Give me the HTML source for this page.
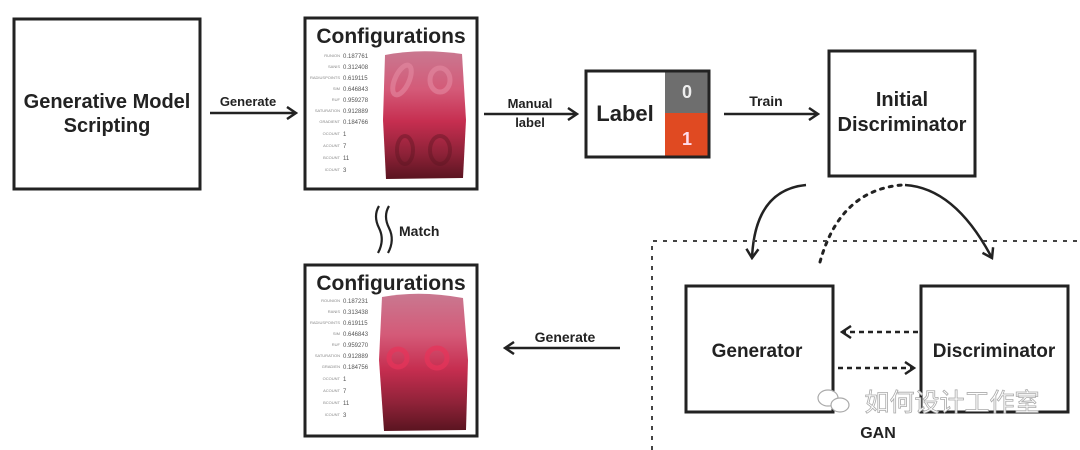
<!DOCTYPE html>
<html><head><meta charset="utf-8"><style>
html,body{margin:0;padding:0;background:#fff;}
svg{display:block;}
text{font-family:"Liberation Sans",Arial,sans-serif;font-weight:bold;fill:#222;}
</style></head><body>
<svg width="1080" height="450" viewBox="0 0 1080 450" xmlns="http://www.w3.org/2000/svg">
<defs>
<linearGradient id="rg" x1="0" y1="0" x2="0" y2="1">
<stop offset="0" stop-color="#c97890"/>
<stop offset="0.3" stop-color="#d45a78"/>
<stop offset="0.55" stop-color="#c62e50"/>
<stop offset="0.8" stop-color="#8e2238"/>
<stop offset="1" stop-color="#5a1420"/>
</linearGradient>
<marker id="ah" markerWidth="12" markerHeight="14" refX="10" refY="7" orient="auto" markerUnits="userSpaceOnUse">
<path d="M1,1 L10,7 L1,13" fill="none" stroke="#222" stroke-width="2.5"/>
</marker>
</defs>

<rect x="14" y="19" width="186" height="170" fill="none" stroke="#222" stroke-width="3"/>
<text x="107" y="108" font-size="20" text-anchor="middle">Generative Model</text>
<text x="107" y="132" font-size="20" text-anchor="middle">Scripting</text>

<line x1="210" y1="113" x2="296" y2="113" stroke="#222" stroke-width="2.5" marker-end="url(#ah)"/>
<text x="248" y="106" font-size="13" text-anchor="middle">Generate</text>

<rect x="305" y="18" width="172" height="171" fill="#fff" stroke="#222" stroke-width="3"/>
<text x="391" y="43" font-size="21" text-anchor="middle">Configurations</text>
<g>
<text x="340" y="57" font-size="4" text-anchor="end" style="font-weight:normal;fill:#888">RUNION</text><text x="343" y="58" font-size="6" style="font-weight:normal;fill:#555">0.187761</text>
<text x="340" y="68" font-size="4" text-anchor="end" style="font-weight:normal;fill:#888">SANIS</text><text x="343" y="69" font-size="6" style="font-weight:normal;fill:#555">0.312408</text>
<text x="340" y="79" font-size="4" text-anchor="end" style="font-weight:normal;fill:#888">RADIUSPOINTS</text><text x="343" y="80" font-size="6" style="font-weight:normal;fill:#555">0.619115</text>
<text x="340" y="90" font-size="4" text-anchor="end" style="font-weight:normal;fill:#888">SIM</text><text x="343" y="91" font-size="6" style="font-weight:normal;fill:#555">0.646843</text>
<text x="340" y="101" font-size="4" text-anchor="end" style="font-weight:normal;fill:#888">RUF</text><text x="343" y="102" font-size="6" style="font-weight:normal;fill:#555">0.959278</text>
<text x="340" y="112" font-size="4" text-anchor="end" style="font-weight:normal;fill:#888">SATURATION</text><text x="343" y="113" font-size="6" style="font-weight:normal;fill:#555">0.912889</text>
<text x="340" y="123" font-size="4" text-anchor="end" style="font-weight:normal;fill:#888">GRADIENT</text><text x="343" y="124" font-size="6" style="font-weight:normal;fill:#555">0.184766</text>
<text x="340" y="135" font-size="4" text-anchor="end" style="font-weight:normal;fill:#888">OCOUNT</text><text x="343" y="136" font-size="6" style="font-weight:normal;fill:#555">1</text>
<text x="340" y="147" font-size="4" text-anchor="end" style="font-weight:normal;fill:#888">ACOUNT</text><text x="343" y="148" font-size="6" style="font-weight:normal;fill:#555">7</text>
<text x="340" y="159" font-size="4" text-anchor="end" style="font-weight:normal;fill:#888">BCOUNT</text><text x="343" y="160" font-size="6" style="font-weight:normal;fill:#555">11</text>
<text x="340" y="171" font-size="4" text-anchor="end" style="font-weight:normal;fill:#888">ICOUNT</text><text x="343" y="172" font-size="6" style="font-weight:normal;fill:#555">3</text>
</g>
<path d="M385,55 Q420,48 462,54 L466,120 L463,178 L386,179 L383,120 Z" fill="url(#rg)"/>
<g fill="none" stroke="#e58aa2" stroke-width="5" opacity="0.6">
<ellipse cx="402" cy="80" rx="7" ry="16" transform="rotate(25 402 80)"/>
<ellipse cx="440" cy="80" rx="10" ry="12"/>
</g>
<g fill="none" stroke="#5a1420" stroke-width="4" opacity="0.4">
<ellipse cx="405" cy="150" rx="8" ry="14"/>
<ellipse cx="440" cy="150" rx="10" ry="14"/>
</g>

<line x1="484" y1="114" x2="577" y2="114" stroke="#222" stroke-width="2.5" marker-end="url(#ah)"/>
<text x="530" y="108" font-size="13" text-anchor="middle">Manual</text>
<text x="530" y="127" font-size="13" text-anchor="middle">label</text>

<rect x="665" y="71" width="44" height="42" fill="#6e6e6e"/>
<rect x="665" y="113" width="44" height="44" fill="#e04a22"/>
<rect x="586" y="71" width="123" height="86" fill="none" stroke="#222" stroke-width="3"/>
<text x="625" y="121" font-size="22" text-anchor="middle">Label</text>
<text x="687" y="98" font-size="18" text-anchor="middle" style="fill:#eee">0</text>
<text x="687" y="145" font-size="18" text-anchor="middle" style="fill:#fde">1</text>

<line x1="724" y1="114" x2="818" y2="114" stroke="#222" stroke-width="2.5" marker-end="url(#ah)"/>
<text x="766" y="106" font-size="14" text-anchor="middle">Train</text>

<rect x="829" y="51" width="146" height="125" fill="none" stroke="#222" stroke-width="3"/>
<text x="902" y="106" font-size="20" text-anchor="middle">Initial</text>
<text x="902" y="131" font-size="20" text-anchor="middle">Discriminator</text>

<path d="M806,185 Q755,190 752,258" fill="none" stroke="#222" stroke-width="2.5" marker-end="url(#ah)"/>
<path d="M820,262 Q840,190 902,185" fill="none" stroke="#222" stroke-width="3" stroke-dasharray="3,6" stroke-linecap="round"/>
<path d="M905,185 Q955,188 992,258" fill="none" stroke="#222" stroke-width="2.5" marker-end="url(#ah)"/>

<path d="M652,450 L652,241 L1080,241" fill="none" stroke="#444" stroke-width="2" stroke-dasharray="4,6"/>
<rect x="686" y="286" width="147" height="126" fill="none" stroke="#222" stroke-width="3"/>
<text x="757" y="357" font-size="19" text-anchor="middle">Generator</text>
<rect x="921" y="286" width="147" height="126" fill="none" stroke="#222" stroke-width="3"/>
<text x="994" y="357" font-size="19" text-anchor="middle">Discriminator</text>
<line x1="918" y1="332" x2="842" y2="332" stroke="#222" stroke-width="2.5" stroke-dasharray="5,4" marker-end="url(#ah)"/>
<line x1="838" y1="368" x2="914" y2="368" stroke="#222" stroke-width="2.5" stroke-dasharray="5,4" marker-end="url(#ah)"/>
<text x="878" y="438" font-size="16" text-anchor="middle">GAN</text>
<text x="952" y="411" font-size="25" text-anchor="middle" style="font-family:'Noto Sans CJK SC',sans-serif;font-weight:normal;fill:#fff;stroke:#aaa;stroke-width:0.8">如何设计工作室</text>
<g fill="#fff" stroke="#aaa" stroke-width="1.2">
<ellipse cx="828" cy="398" rx="10" ry="8"/>
<ellipse cx="840" cy="405" rx="9" ry="7"/>
</g>

<path d="M379,206 Q373,216 379,228 Q385,240 378,253" fill="none" stroke="#222" stroke-width="2.2"/>
<path d="M389,206 Q383,216 389,228 Q395,240 388,253" fill="none" stroke="#222" stroke-width="2.2"/>
<text x="399" y="236" font-size="14">Match</text>

<line x1="620" y1="348" x2="505" y2="348" stroke="#222" stroke-width="2.5" marker-end="url(#ah)"/>
<text x="565" y="342" font-size="14" text-anchor="middle">Generate</text>

<rect x="305" y="265" width="172" height="171" fill="#fff" stroke="#222" stroke-width="3"/>
<text x="391" y="290" font-size="21" text-anchor="middle">Configurations</text>
<g>
<text x="340" y="302" font-size="4" text-anchor="end" style="font-weight:normal;fill:#888">ROUNION</text><text x="343" y="303" font-size="6" style="font-weight:normal;fill:#555">0.187231</text>
<text x="340" y="313" font-size="4" text-anchor="end" style="font-weight:normal;fill:#888">RANIS</text><text x="343" y="314" font-size="6" style="font-weight:normal;fill:#555">0.313438</text>
<text x="340" y="324" font-size="4" text-anchor="end" style="font-weight:normal;fill:#888">RADIUSPOINTS</text><text x="343" y="325" font-size="6" style="font-weight:normal;fill:#555">0.619115</text>
<text x="340" y="335" font-size="4" text-anchor="end" style="font-weight:normal;fill:#888">SIM</text><text x="343" y="336" font-size="6" style="font-weight:normal;fill:#555">0.646843</text>
<text x="340" y="346" font-size="4" text-anchor="end" style="font-weight:normal;fill:#888">RUF</text><text x="343" y="347" font-size="6" style="font-weight:normal;fill:#555">0.959270</text>
<text x="340" y="357" font-size="4" text-anchor="end" style="font-weight:normal;fill:#888">SATURATION</text><text x="343" y="358" font-size="6" style="font-weight:normal;fill:#555">0.912889</text>
<text x="340" y="368" font-size="4" text-anchor="end" style="font-weight:normal;fill:#888">GRADIEN</text><text x="343" y="369" font-size="6" style="font-weight:normal;fill:#555">0.184756</text>
<text x="340" y="380" font-size="4" text-anchor="end" style="font-weight:normal;fill:#888">OCOUNT</text><text x="343" y="381" font-size="6" style="font-weight:normal;fill:#555">1</text>
<text x="340" y="392" font-size="4" text-anchor="end" style="font-weight:normal;fill:#888">ACOUNT</text><text x="343" y="393" font-size="6" style="font-weight:normal;fill:#555">7</text>
<text x="340" y="404" font-size="4" text-anchor="end" style="font-weight:normal;fill:#888">BCOUNT</text><text x="343" y="405" font-size="6" style="font-weight:normal;fill:#555">11</text>
<text x="340" y="416" font-size="4" text-anchor="end" style="font-weight:normal;fill:#888">ICOUNT</text><text x="343" y="417" font-size="6" style="font-weight:normal;fill:#555">3</text>
</g>
<path d="M382,297 Q420,290 463,298 L468,360 L466,430 L384,431 L379,360 Z" fill="url(#rg)"/>
<g fill="none" stroke="#e8345a" stroke-width="5" opacity="0.7">
<circle cx="398" cy="358" r="9"/>
<circle cx="437" cy="358" r="10"/>
</g>
</svg>
</body></html>
